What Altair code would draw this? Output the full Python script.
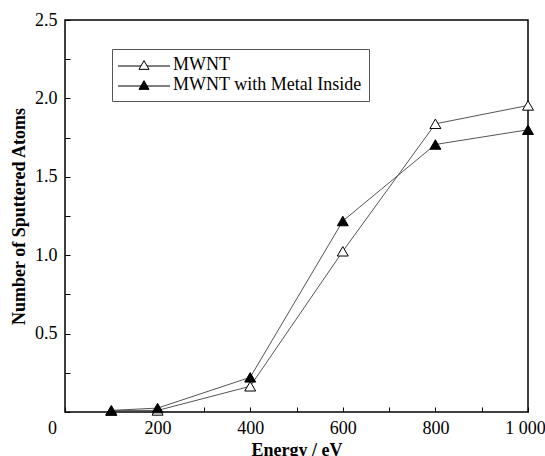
import altair as alt
import pandas as pd

energy = [100, 200, 400, 600, 800, 1000]
mwnt = [0.01, 0.01, 0.164, 1.025, 1.838, 1.955]
mwnt_metal = [0.01, 0.025, 0.221, 1.218, 1.706, 1.80]
series_names = ["MWNT", "MWNT with Metal Inside"]

x_major = [0, 200, 400, 600, 800, 1000]
x_minor = [0, 100, 200, 300, 400, 500, 600, 700, 800, 900, 1000]
y_major = [0.5, 1.0, 1.5, 2.0, 2.5]
y_minor = [0, 0.25, 0.5, 0.75, 1.0, 1.25, 1.5, 1.75, 2.0, 2.25, 2.5]

rows = []
for e, v in zip(energy, mwnt):
    rows.append({"energy": e, "value": v, "series": series_names[0]})
for e, v in zip(energy, mwnt_metal):
    rows.append({"energy": e, "value": v, "series": series_names[1]})
df = pd.DataFrame(rows)

W, H = 463, 392
FONT = "Liberation Serif"
FS = 18

xscale = alt.Scale(domain=[0, 1000], nice=False, zero=False)
yscale = alt.Scale(domain=[0, 2.5], nice=False, zero=False)

bottom_axis = alt.Axis(
    orient="bottom", values=x_major, ticks=False, domain=False, grid=False,
    labelFont=FONT, labelFontSize=FS, labelColor="black", labelPadding=7,
    labelExpr="datum.value == 1000 ? '1 000' : datum.label",
    labelOffset={
        "condition": [
            {"test": "datum.value == 0", "value": -13},
            {"test": "datum.value == 1000", "value": -3},
        ],
        "value": 0,
    },
    labelFlush=False, labelOverlap=False,
    title="Energy / eV", titleFont=FONT, titleFontSize=FS, titleFontWeight="bold",
    titleColor="black", titlePadding=4,
)
left_axis = alt.Axis(
    orient="left", values=y_major, format=".1f", ticks=False, domain=False, grid=False,
    labelFont=FONT, labelFontSize=FS, labelColor="black", labelPadding=8,
    labelFlush=False, labelOverlap=False,
    title="Number of Sputtered Atoms", titleFont=FONT, titleFontSize=FS,
    titleFontWeight="bold", titleColor="black", titlePadding=6,
)
top_tick_axis = alt.Axis(
    orient="top", offset=-H, values=x_minor, labels=False, domain=False, grid=False,
    ticks=True, tickSize=5, tickColor="black", tickWidth=1, title=None,
)
right_tick_axis = alt.Axis(
    orient="right", offset=-W, values=y_minor, labels=False, domain=False, grid=False,
    ticks=True, tickSize=5, tickColor="black", tickWidth=1, title=None,
)

legend_symbol = "M-5.2,0.2H-0.6 M0.6,0.2H5.2 M0,-0.87L1,0.87L-1,0.87Z"

base = alt.Chart(df)

lines = base.mark_line(color="#555555", strokeWidth=1).encode(
    x=alt.X("energy:Q", scale=xscale, axis=bottom_axis),
    y=alt.Y("value:Q", scale=yscale, axis=left_axis),
    detail="series:N",
)

points = base.mark_point(
    shape="triangle-up", filled=True, stroke="black", strokeWidth=1, size=120, opacity=1
).encode(
    x=alt.X("energy:Q", scale=xscale, axis=top_tick_axis),
    y=alt.Y("value:Q", scale=yscale, axis=right_tick_axis),
    fill=alt.Fill(
        "series:N",
        scale=alt.Scale(domain=series_names, range=["white", "black"]),
        legend=alt.Legend(
            orient="none", legendX=47, legendY=29, title=None,
            symbolType=legend_symbol, symbolSize=100,
            symbolStrokeColor="black", symbolStrokeWidth=1,
            symbolOffset=16, labelOffset=20,
            labelFont=FONT, labelFontSize=FS, labelColor="black",
            labelLimit=400, rowPadding=2, padding=7,
            strokeColor="#555555", fillColor="white",
        ),
    ),
)

chart = (
    alt.layer(lines, points)
    .resolve_axis(x="independent", y="independent")
    .properties(
        width=W, height=H,
        autosize=alt.AutoSizeParams(type="none"),
        padding={"left": 65, "top": 20, "right": 17, "bottom": 44},
        background="white",
    )
    .configure_view(stroke="black", strokeWidth=1.5)
)

chart.save("out.html", embed_options={"renderer": "svg", "actions": False})
